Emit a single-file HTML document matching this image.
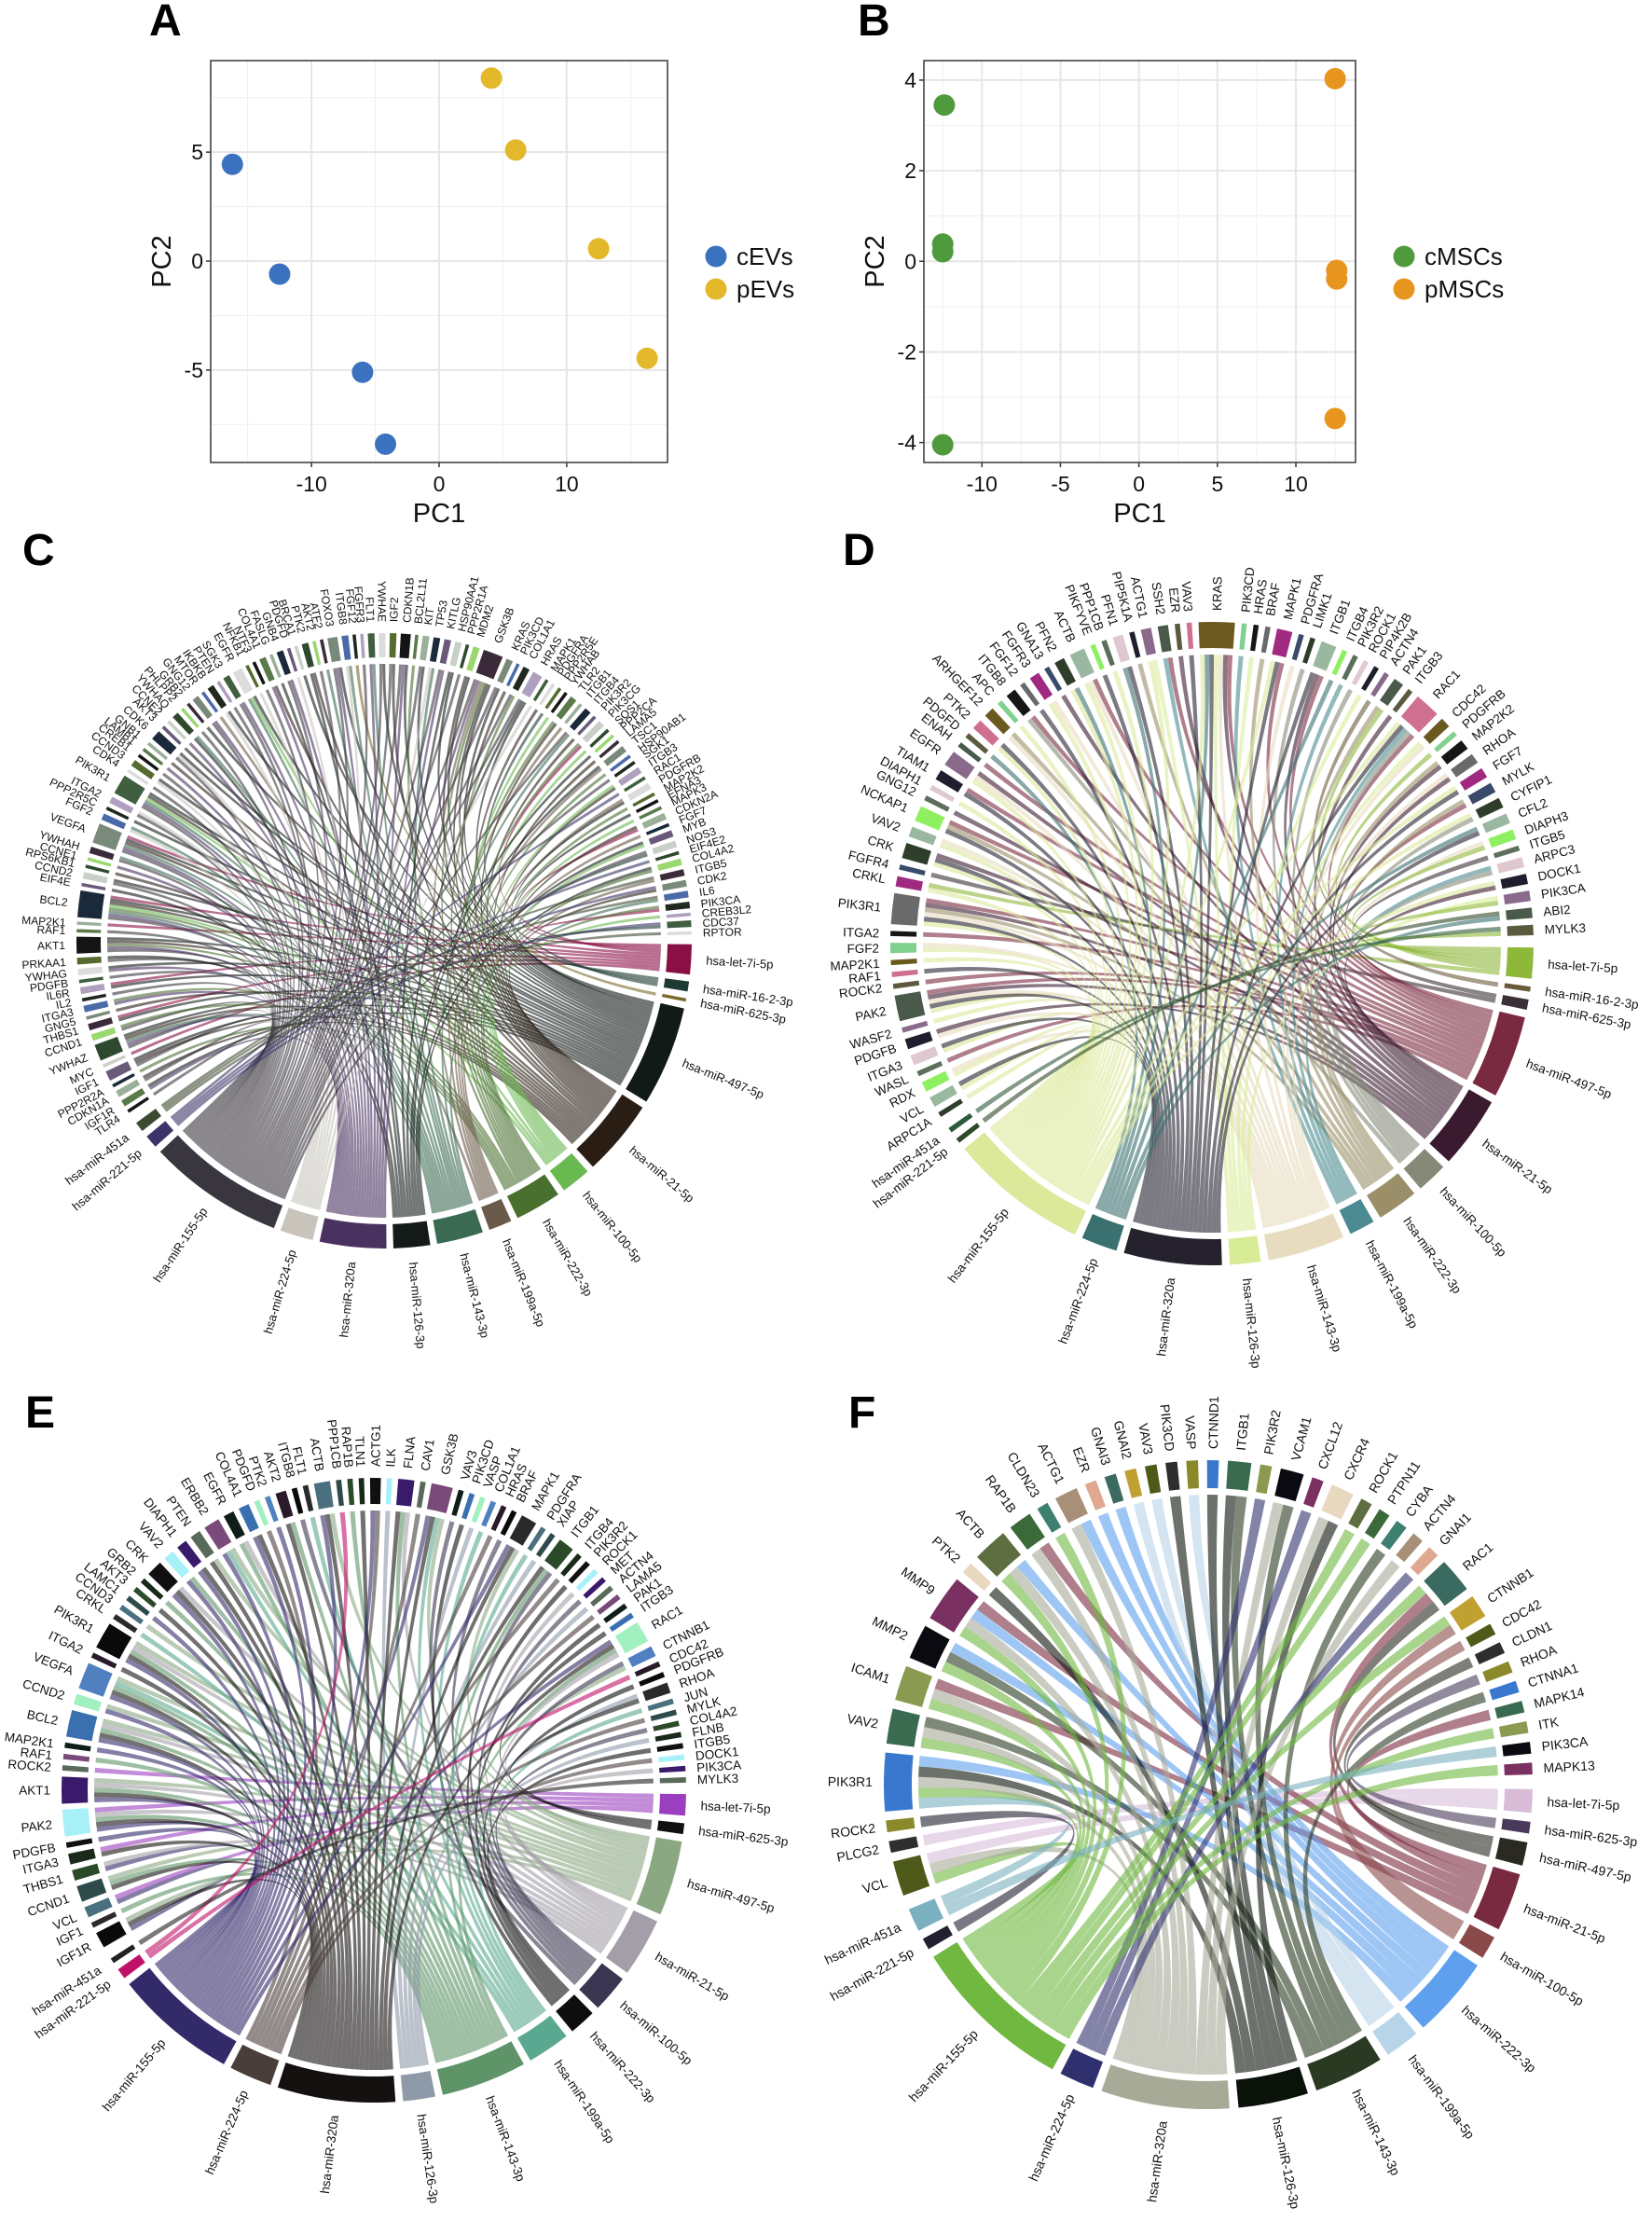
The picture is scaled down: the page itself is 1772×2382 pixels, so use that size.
<!DOCTYPE html>
<html><head><meta charset="utf-8"><title>PCA and miRNA-gene chord diagrams</title>
<style>
html,body{margin:0;padding:0;background:#fff;}
svg{display:block;font-family:"Liberation Sans",Arial,sans-serif;}
</style></head>
<body>
<svg id="fig" xmlns="http://www.w3.org/2000/svg" width="1772" height="2382" viewBox="0 0 1772 2382">
<rect x="0" y="0" width="1772" height="2382" fill="#fff"/>
<text x="160" y="38" font-size="48" font-weight="bold">A</text>
<text x="920" y="38" font-size="48" font-weight="bold">B</text>
<text x="24" y="606" font-size="48" font-weight="bold">C</text>
<text x="904" y="606" font-size="48" font-weight="bold">D</text>
<text x="27" y="1531" font-size="48" font-weight="bold">E</text>
<text x="910" y="1531" font-size="48" font-weight="bold">F</text>
</svg>
<script>
// ---------- PCA data ----------
const pcaA_cEVs_x = [-16.2, -12.5, -6.0, -4.2];
const pcaA_cEVs_y = [4.44, -0.6, -5.1, -8.4];
const pcaA_pEVs_x = [4.1, 6.0, 12.5, 16.3];
const pcaA_pEVs_y = [8.4, 5.1, 0.57, -4.46];
const pcaA_xTicks = [-10, 0, 10];
const pcaA_xMinor = [-15, -5, 5, 15];
const pcaA_yTicks = [-5, 0, 5];
const pcaA_yMinor = [-7.5, -2.5, 2.5, 7.5];
const pcaA_xLim = [-17.9, 17.9];
const pcaA_yLim = [-9.24, 9.2];
const pcaA_groups = ["cEVs", "pEVs"];

const pcaB_cMSCs_x = [-12.4, -12.5, -12.5, -12.5];
const pcaB_cMSCs_y = [3.45, 0.38, 0.21, -4.05];
const pcaB_pMSCs_x = [12.5, 12.6, 12.6, 12.5];
const pcaB_pMSCs_y = [4.03, -0.2, -0.39, -3.47];
const pcaB_xTicks = [-10, -5, 0, 5, 10];
const pcaB_xMinor = [-12.5, -7.5, -2.5, 2.5, 7.5, 12.5];
const pcaB_yTicks = [-4, -2, 0, 2, 4];
const pcaB_yMinor = [-3, -1, 1, 3];
const pcaB_xLim = [-13.7, 13.8];
const pcaB_yLim = [-4.44, 4.43];
const pcaB_groups = ["cMSCs", "pMSCs"];

// ---------- Chord data ----------
const mirsC = ["hsa-let-7i-5p","hsa-miR-16-2-3p","hsa-miR-625-3p","hsa-miR-497-5p","hsa-miR-21-5p","hsa-miR-100-5p","hsa-miR-222-3p","hsa-miR-199a-5p","hsa-miR-143-3p","hsa-miR-126-3p","hsa-miR-320a","hsa-miR-224-5p","hsa-miR-155-5p","hsa-miR-221-5p","hsa-miR-451a"];
const genesC = ["TLR4","IGF1R","CDKN1A","PPP2R2A","IGF1","MYC","YWHAZ","CCND1","THBS1","GNG5","ITGA3","IL2","IL6R","PDGFB","YWHAG","PRKAA1","AKT1","RAF1","MAP2K1","BCL2","EIF4E","CCND2","RPS6KB1","CCNE1","YWHAH","VEGFA","FGF2","PPP2R5C","ITGA2","PIK3R1","CDK4","CCND3","CREB1","LAMB1","GNB1","CDK6","AKT3","CCNE2","YWHAQ","PHLPP2","GRB2","GNG12","MTOR","IKBKB","PTEN","SGK3","EGFR","NFKB1","NTF3","COL4A1","FASLG","GNB4","PDGFD","BRCA1","PTK2","AKT2","ATF2","FOXO3","ITGB8","FGF12","FGFR3","FLT1","YWHAE","IGF2","CDKN1B","BCL2L11","KIT","TP53","KITLG","HSP90AA1","PPP2R1A","MDM2","GSK3B","KRAS","PIK3CD","COL1A1","HRAS","MAPK1","PDGFRA","PPP2R5E","YWHAB","TLR2","ITGB1","ITGB4","PIK3R2","PIK3CG","SOS1","PPP2CA","LAMA5","TSC1","HSP90AB1","SGK1","ITGB3","RAC1","PDGFRB","MAP2K2","EFNA3","MAPK3","CDKN2A","FGF7","MYB","NOS3","EIF4E2","COL4A2","ITGB5","CDK2","IL6","PIK3CA","CREB3L2","CDC37","RPTOR"];
const linksC = ["m","dk","em","g","dme","a","dmkei","mg","ad","e","gk","m","ad","m","dk","mj","dmkeg","m","a","dmkeigaf","j","dm","e","k","mi","dmkeia","il","d","ml","dmkefi","m","dl","m","k","e","mdl","d","k","ij","m","d","mk","h","dl","m","mk","dfi","l","m","ek","j","mk","l","d","ej","m","i","dmk","il","c","m","ik","dm","em","dmk","g","dm","il","mk","dj","m","de","dmkegh","dm","e","mg","dmj","l","e","b","f","eg","h","mi","e","ga","f","j","e","hj","g","m","ef","n","hd","g","d","f","ae","h","jf","mb","n","gj","ho","en","io","ag","f","nb","o"];
const mirColorsC = ["#8a0f45","#1e3a34","#7a6a2a","#121a18","#2a1e14","#6ab850","#4a7030","#6a5a4a","#3a6a52","#141a18","#4a3260","#c8c4bc","#3a3640","#3a3468","#3e4a30"];

const mirsD = ["hsa-let-7i-5p","hsa-miR-16-2-3p","hsa-miR-625-3p","hsa-miR-497-5p","hsa-miR-21-5p","hsa-miR-100-5p","hsa-miR-222-3p","hsa-miR-199a-5p","hsa-miR-143-3p","hsa-miR-126-3p","hsa-miR-320a","hsa-miR-224-5p","hsa-miR-155-5p","hsa-miR-221-5p","hsa-miR-451a"];
const genesD = ["ARPC1A","VCL","RDX","WASL","ITGA3","PDGFB","WASF2","PAK2","ROCK2","RAF1","MAP2K1","FGF2","ITGA2","PIK3R1","CRKL","FGFR4","CRK","VAV2","NCKAP1","GNG12","DIAPH1","TIAM1","EGFR","ENAH","PDGFD","PTK2","ARHGEF12","APC","ITGB8","FGF12","FGFR3","GNA13","PFN2","ACTB","PIKFYVE","PPP1CB","PFN1","PIP5K1A","ACTG1","SSH2","EZR","VAV3","KRAS","PIK3CD","HRAS","BRAF","MAPK1","PDGFRA","LIMK1","ITGB1","ITGB4","PIK3R2","ROCK1","PIP4K2B","ACTN4","PAK1","ITGB3","RAC1","CDC42","PDGFRB","MAP2K2","RHOA","FGF7","MYLK","CYFIP1","CFL2","DIAPH3","ITGB5","ARPC3","DOCK1","PIK3CA","ABI2","MYLK3"];
const linksD = ["m","mk","mi","d","mk","ie","m","mkdie","d","k","m","mi","d","mkdeig","ma","c","mke","mi","kdg","e","m","kd","mie","d","l","mk","ig","m","df","k","mi","e","ml","mdi","k","m","kl","g","mj","dh","e","k","mkdeijl","h","j","g","mkd","i","f","dke","l","h","f","j","b","ga","e","mkdfh","ij","a","ge","ie","mk","dg","mf","kl","ia","c","hf","me","ja","ln","ao"];
const mirColorsD = ["#8db83a","#6b5a3a","#3a3038","#7a2a40","#3a1a2e","#858a78","#9a8f68","#4a8a90","#e8dcc0","#d8ec98","#25222e","#3b7070","#dce89a","#2e4a2a","#2e5a3a"];

const mirsE = ["hsa-let-7i-5p","hsa-miR-625-3p","hsa-miR-497-5p","hsa-miR-21-5p","hsa-miR-100-5p","hsa-miR-222-3p","hsa-miR-199a-5p","hsa-miR-143-3p","hsa-miR-126-3p","hsa-miR-320a","hsa-miR-224-5p","hsa-miR-155-5p","hsa-miR-221-5p","hsa-miR-451a"];
const genesE = ["IGF1R","IGF1","VCL","CCND1","THBS1","ITGA3","PDGFB","PAK2","AKT1","ROCK2","RAF1","MAP2K1","BCL2","CCND2","VEGFA","ITGA2","PIK3R1","CRKL","CCND3","LAMC1","AKT3","GRB2","CRK","VAV2","DIAPH1","PTEN","ERBB2","EGFR","COL4A1","PDGFD","PTK2","AKT2","ITGB8","FLT1","ACTB","PPP1CB","RAP1B","TLN1","ACTG1","ILK","FLNA","CAV1","GSK3B","VAV3","PIK3CD","VASP","COL1A1","HRAS","BRAF","MAPK1","PDGFRA","XIAP","ITGB1","ITGB4","PIK3R2","ROCK1","MET","ACTN4","LAMA5","PAK1","ITGB3","RAC1","CTNNB1","CDC42","PDGFRB","RHOA","JUN","MYLK","COL4A2","FLNB","ITGB5","DOCK1","PIK3CA","MYLK3"];
const linksE = ["ljc","h","la","jch","ld","ja","l","ljahd","ljchd","a","h","l","ljcdh","lc","ljhcg","j","ljcdh","g","c","l","j","h","ljd","lh","lj","jc","lcg","hd","lj","k","l","jh","e","g","ljc","m","h","j","lk","i","jhd","k","ljcg","e","f","i","g","k","e","ljc","g","i","jhe","k","f","d","e","i","k","f","b","ljhd","ce","m","f","ib","g","k","e","i","f","k","d","n"];
const mirColorsE = ["#9b3fc0","#111111","#8aa882","#a39ea8","#3a3550","#0e0e0e","#5aa890","#5e9468","#8e9aa8","#151010","#4a3e3a","#332a6a","#c0106a","#222222"];

const mirsF = ["hsa-let-7i-5p","hsa-miR-625-3p","hsa-miR-497-5p","hsa-miR-21-5p","hsa-miR-100-5p","hsa-miR-222-3p","hsa-miR-199a-5p","hsa-miR-143-3p","hsa-miR-126-3p","hsa-miR-320a","hsa-miR-224-5p","hsa-miR-155-5p","hsa-miR-221-5p","hsa-miR-451a"];
const genesF = ["VCL","PLCG2","ROCK2","PIK3R1","VAV2","ICAM1","MMP2","MMP9","PTK2","ACTB","RAP1B","CLDN23","ACTG1","EZR","GNAI3","GNAI2","VAV3","PIK3CD","VASP","CTNND1","ITGB1","PIK3R2","VCAM1","CXCL12","CXCR4","ROCK1","PTPN11","CYBA","ACTN4","GNAI1","RAC1","CTNNB1","CDC42","CLDN1","RHOA","CTNNA1","MAPK14","ITK","PIK3CA","MAPK13"];
const linksF = ["lja","a","m","lfjin","ljh","ldj","lhf","ldjf","i","ljf","dj","l","fj","f","f","g","g","i","g","i","hi","k","jh","k","ji","l","l","h","j","k","lcd","le","e","c","b","h","d","l","n","l"];
const mirColorsF = ["#d8bcd8","#4a3a5a","#2a2a22","#7a2a40","#8a4a4a","#5ea0ee","#b8d4e8","#2a3a22","#0a120a","#a8aa98","#30306e","#70b840","#222030","#7ab0c0"];

// ---------- style palettes (not data) ----------
const paletteC = ["#151515","#5a7a4a","#9ab09a","#1a2a3a","#6a5a7a","#c8d0c8","#2e4a2e","#9ad870","#3a2a3a","#7a8a7a","#4a6aa8","#202820","#b0a0c0","#3f5f3f","#dcdcdc","#556b2f"];
const paletteD = ["#2e3e2a","#9ab8a0","#8ef060","#5c6e5c","#e0c8d0","#1e1e2e","#8a6a8a","#4a5a4a","#5c5a3e","#d07090","#6a5a20","#80d090","#161616","#6a6a6a","#a02a80","#3a4a6a"];
const paletteE = ["#0a0a0a","#2a2a2a","#4a7080","#2e4a4a","#2a4a2a","#1a2a1a","#101010","#a8f0f8","#3a1a6a","#5a6a5a","#7a4a7a","#101e1a","#3a70b0","#a0f0c0","#5080c0","#2a1a2a"];
const paletteF = ["#4e5a1a","#2e2e2e","#8a8a2a","#3a78d0","#3a6a50","#8a9a50","#0a0a10","#7a3060","#e8d8c0","#5e6e40","#3a6a3a","#3e8070","#a89078","#e0a890","#3a6a60","#c0a030"];

const NS = "http://www.w3.org/2000/svg";
const svg = document.getElementById("fig");
function mk(tag, attrs, parent) {
  const e = document.createElementNS(NS, tag);
  for (const k in attrs) e.setAttribute(k, attrs[k]);
  (parent || svg).appendChild(e);
  return e;
}

// ---------- scatter ----------
function scatter(cfg) {
  const g = mk("g", {});
  
  
  const sx = v => cfg.x0 + (v - cfg.xLim[0]) / (cfg.xLim[1] - cfg.xLim[0]) * (cfg.x1 - cfg.x0);
  const sy = v => cfg.y1 - (v - cfg.yLim[0]) / (cfg.yLim[1] - cfg.yLim[0]) * (cfg.y1 - cfg.y0);
  cfg.xMinor.forEach(v => { const l = mk("line", {x1: sx(v), x2: sx(v), y1: cfg.y0, y2: cfg.y1, stroke: "#efefef", "stroke-width": 1}, g);
      });
  cfg.yMinor.forEach(v => { const l = mk("line", {y1: sy(v), y2: sy(v), x1: cfg.x0, x2: cfg.x1, stroke: "#efefef", "stroke-width": 1}, g);
      });
  cfg.xTicks.forEach(v => {
    const l = mk("line", {x1: sx(v), x2: sx(v), y1: cfg.y0, y2: cfg.y1, stroke: "#e6e6e6", "stroke-width": 2}, g);
     
    const t = mk("line", {x1: sx(v), x2: sx(v), y1: cfg.y1, y2: cfg.y1 + 5, stroke: "#333", "stroke-width": 1.5}, g);
     
    const tx = mk("text", {x: sx(v), y: cfg.y1 + 31, "font-size": 23, "text-anchor": "middle", fill: "#111"}, g);
    tx.textContent = String(v);
     
  });
  cfg.yTicks.forEach(v => {
    const l = mk("line", {y1: sy(v), y2: sy(v), x1: cfg.x0, x2: cfg.x1, stroke: "#e6e6e6", "stroke-width": 2}, g);
     
    const t = mk("line", {y1: sy(v), y2: sy(v), x1: cfg.x0 - 5, x2: cfg.x0, stroke: "#333", "stroke-width": 1.5}, g);
     
    const tx = mk("text", {x: cfg.x0 - 8, y: sy(v) + 8, "font-size": 23, "text-anchor": "end", fill: "#111"}, g);
    tx.textContent = String(v);
     
  });
  const box = mk("rect", {x: cfg.x0, y: cfg.y0, width: cfg.x1 - cfg.x0, height: cfg.y1 - cfg.y0, fill: "none", stroke: "#444", "stroke-width": 1.6}, g);
   
  cfg.series.forEach((s, si) => {
    s.x.forEach((xv, i) => {
      const c = mk("circle", {cx: sx(xv), cy: sy(s.y[i]), r: 11.5, fill: s.color}, g);
      
      
    });
    const lc = mk("circle", {cx: cfg.legX, cy: cfg.legY + si * 35, r: 11.5, fill: s.color}, g);
    
    
    const lt = mk("text", {x: cfg.legX + 22, y: cfg.legY + si * 35 + 9, "font-size": 26, fill: "#111"}, g);
    lt.textContent = s.label;
    
    
  });
  const xt = mk("text", {x: (cfg.x0 + cfg.x1) / 2, y: cfg.y1 + 64, "font-size": 29, "text-anchor": "middle", fill: "#111"}, g);
  xt.textContent = "PC1";
   
  const yc = (cfg.y0 + cfg.y1) / 2;
  const yt = mk("text", {x: cfg.x0 - 43, y: yc, "font-size": 29, "text-anchor": "middle", fill: "#111", transform: "rotate(-90 " + (cfg.x0 - 43) + " " + yc + ")"}, g);
  yt.textContent = "PC2";
   
}

scatter({name: "pca-plot-evs", x0: 226, x1: 716, y0: 65, y1: 496, xLim: pcaA_xLim, yLim: pcaA_yLim,
  xTicks: pcaA_xTicks, xMinor: pcaA_xMinor, yTicks: pcaA_yTicks, yMinor: pcaA_yMinor, legX: 768, legY: 275,
  series: [{label: pcaA_groups[0], x: pcaA_cEVs_x, y: pcaA_cEVs_y, color: "#3b72c0"},
           {label: pcaA_groups[1], x: pcaA_pEVs_x, y: pcaA_pEVs_y, color: "#e3b82a"}]});
scatter({name: "pca-plot-mscs", x0: 991, x1: 1454, y0: 65, y1: 496, xLim: pcaB_xLim, yLim: pcaB_yLim,
  xTicks: pcaB_xTicks, xMinor: pcaB_xMinor, yTicks: pcaB_yTicks, yMinor: pcaB_yMinor, legX: 1506, legY: 275,
  series: [{label: pcaB_groups[0], x: pcaB_cMSCs_x, y: pcaB_cMSCs_y, color: "#4f9a3c"},
           {label: pcaB_groups[1], x: pcaB_pMSCs_x, y: pcaB_pMSCs_y, color: "#e8951f"}]});

// ---------- chord ----------
function chord(cfg) {
  const g = mk("g", {});
  
  
  const nm = cfg.mirs.length, ng = cfg.genes.length;
  const letters = "abcdefghijklmnopqrstuvwxyz";
  const links = [];
  cfg.links.forEach((s, gi) => { for (const ch of s) { const mi = letters.indexOf(ch); if (mi >= 0 && mi < nm) links.push({m: mi, g: gi}); } });
  const mCount = new Array(nm).fill(0), gCount = new Array(ng).fill(0);
  links.forEach(l => { mCount[l.m]++; gCount[l.g]++; });
  const N = links.length;
  const usedM = mCount.filter(c => c > 0).length;
  const totalGap = usedM * cfg.gapM + ng * cfg.gapG + 2 * cfg.bigGap;
  const u = (360 - totalGap) / (2 * N);
  const mStart = [], gStart = [];
  let cur = cfg.gapM / 2;
  for (let i = 0; i < nm; i++) { mStart[i] = cur; if (mCount[i] > 0) cur += mCount[i] * u + cfg.gapM; }
  cur += cfg.bigGap;
  for (let i = 0; i < ng; i++) { gStart[i] = cur; cur += gCount[i] * u + cfg.gapG; }
  const R = cfg.R, R2 = cfg.R - cfg.thick, r = R2 - 7, cx = cfg.cx, cy = cfg.cy;
  const rad = d => d * Math.PI / 180;
  const pt = (rr, d) => [cx + rr * Math.cos(rad(d)), cy + rr * Math.sin(rad(d))];
  const f = p => p[0].toFixed(2) + " " + p[1].toFixed(2);
  function sector(a1, a2) {
    const large = (a2 - a1) > 180 ? 1 : 0;
    return "M" + f(pt(R, a1)) + " A" + R + " " + R + " 0 " + large + " 1 " + f(pt(R, a2)) +
      " L" + f(pt(R2, a2)) + " A" + R2 + " " + R2 + " 0 " + large + " 0 " + f(pt(R2, a1)) + " Z";
  }
  // slot assignment
  const mLinks = [...Array(nm)].map(() => []), gLinks = [...Array(ng)].map(() => []);
  links.forEach(l => { mLinks[l.m].push(l); gLinks[l.g].push(l); });
  mLinks.forEach((arr, i) => { arr.sort((a, b) => b.g - a.g); arr.forEach((l, k) => { l.m1 = mStart[i] + k * u; l.m2 = l.m1 + u; }); });
  gLinks.forEach((arr, i) => { arr.sort((a, b) => b.m - a.m); arr.forEach((l, k) => { l.g1 = gStart[i] + k * u; l.g2 = l.g1 + u; }); });
  const lg = mk("g", {"fill-opacity": cfg.alpha}, g);
  links.forEach(l => {
    const p = mk("path", {d: "M" + f(pt(r, l.m1)) + " A" + r + " " + r + " 0 0 1 " + f(pt(r, l.m2)) +
      " Q" + cx + " " + cy + " " + f(pt(r, l.g1)) + " A" + r + " " + r + " 0 0 1 " + f(pt(r, l.g2)) +
      " Q" + cx + " " + cy + " " + f(pt(r, l.m1)) + " Z", fill: cfg.mirColors[l.m]}, lg);
    
    
  });
  function label(text, mid, rr, fs, kind) {
    const p = pt(rr, mid);
    const right = Math.cos(rad(mid)) >= 0;
    const rot = right ? mid : mid + 180;
    const t = mk("text", {x: p[0].toFixed(2), y: p[1].toFixed(2), "font-size": fs, "text-anchor": right ? "start" : "end",
      dy: "0.35em", fill: "#111", transform: "rotate(" + rot.toFixed(2) + " " + p[0].toFixed(2) + " " + p[1].toFixed(2) + ")"}, g);
    t.textContent = text;
    
    
  }
  for (let i = 0; i < nm; i++) {
    if (mCount[i] === 0) continue;
    const a1 = mStart[i], a2 = a1 + mCount[i] * u;
    const s = mk("path", {d: sector(a1, a2), fill: cfg.mirColors[i]}, g);
    
    
    label(cfg.mirs[i], (a1 + a2) / 2, R + 16, cfg.mirFont, 'mirna-label');
  }
  for (let i = 0; i < ng; i++) {
    const a1 = gStart[i], a2 = a1 + gCount[i] * u;
    const s = mk("path", {d: sector(a1, a2), fill: cfg.palette[i % cfg.palette.length]}, g);
    
    
    label(cfg.genes[i], (a1 + a2) / 2, R + 12, cfg.geneFont, 'gene-label');
  }
}

chord({name: "chord-diagram-c", cx: 412, cy: 1009, R: 330, thick: 26, gapM: 1.3, gapG: 0.8, bigGap: 1.0, alpha: 0.6,
  mirs: mirsC, genes: genesC, links: linksC, mirColors: mirColorsC, palette: paletteC, mirFont: 13, geneFont: 12});
chord({name: "chord-diagram-d", cx: 1300, cy: 1012, R: 345, thick: 28, gapM: 1.4, gapG: 1.2, bigGap: 1.0, alpha: 0.6,
  mirs: mirsD, genes: genesD, links: linksD, mirColors: mirColorsD, palette: paletteD, mirFont: 13.5, geneFont: 13.5});
chord({name: "chord-diagram-e", cx: 401, cy: 1920, R: 335, thick: 28, gapM: 1.4, gapG: 1.1, bigGap: 1.0, alpha: 0.6,
  mirs: mirsE, genes: genesE, links: linksE, mirColors: mirColorsE, palette: paletteE, mirFont: 13.5, geneFont: 13.5});
chord({name: "chord-diagram-f", cx: 1296, cy: 1914, R: 348, thick: 30, gapM: 1.6, gapG: 1.6, bigGap: 1.0, alpha: 0.6,
  mirs: mirsF, genes: genesF, links: linksF, mirColors: mirColorsF, palette: paletteF, mirFont: 14, geneFont: 14});
</script>
</body></html>
